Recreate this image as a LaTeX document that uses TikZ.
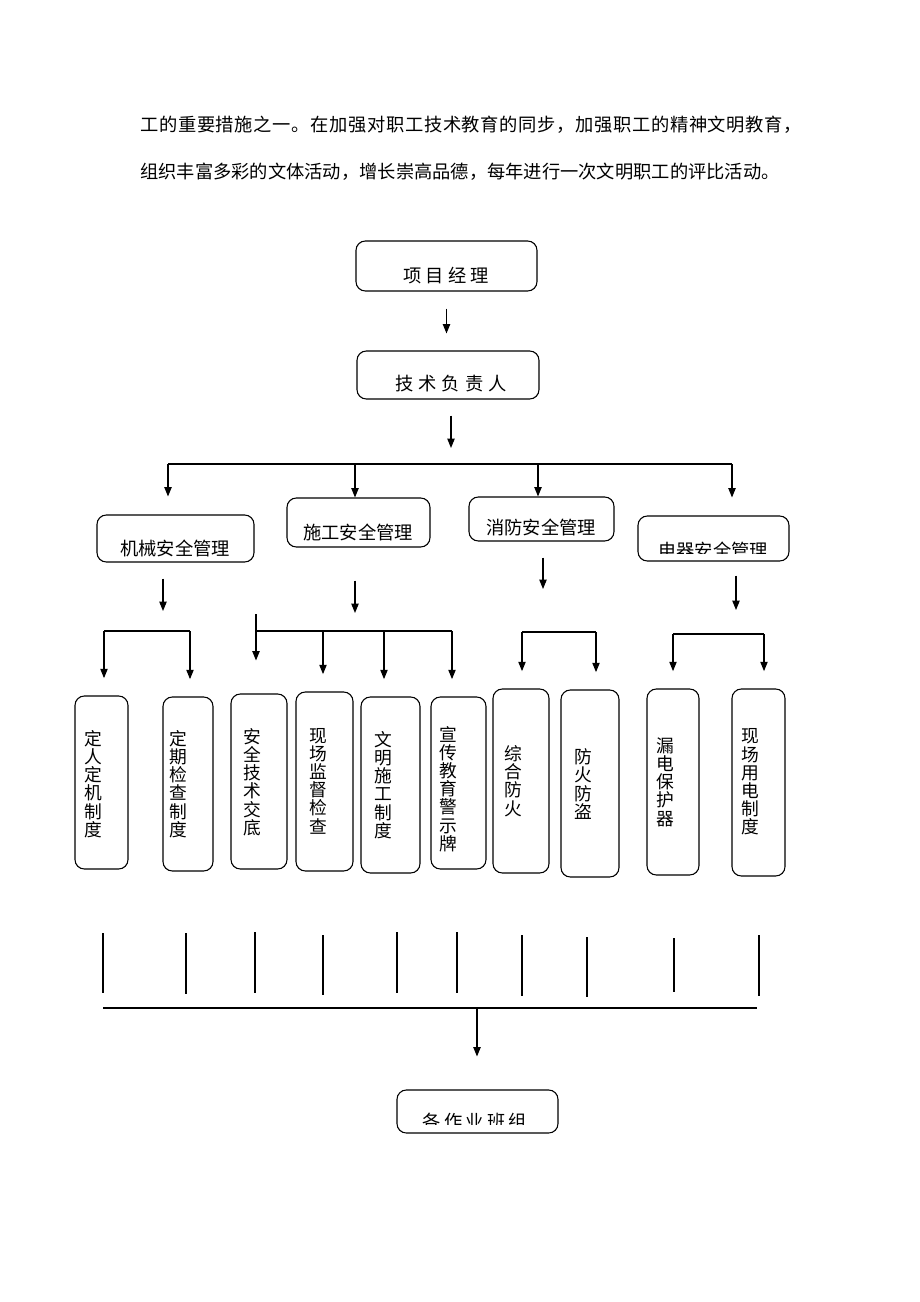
\documentclass[tikz,border=0pt]{standalone}
\usepackage{fontspec}
\setmainfont{Noto Sans CJK SC}
\usetikzlibrary{arrows.meta,fit,calc}
\tikzset{
	box/.style={draw, rounded corners=7pt, line width=0.8pt, inner sep=0pt},
	arr/.style={-{Triangle[length=7pt,width=5.5pt]}, line width=0.8pt},
	drop/.style={arr, shorten >=13pt},
	lbl/.style={inner sep=0pt, font=\fontsize{13.7}{14}\selectfont},
	widelbl/.style={inner sep=0pt, font=\fontsize{13.7}{14}\selectfont\addfontfeature{LetterSpace=#1}},
	vlbl/.style={inner sep=0pt, align=center, font=\fontsize{13.3}{13.65}\selectfont}
}

\begin{document}
\begin{tikzpicture}[x=0.75pt,y=-0.75pt]
			%%%%% START %%%%%
			\useasboundingbox (0,0) rectangle (920,1302);
			
			\node[widelbl=3.6, anchor=west] (line1) at (140,125) {工的重要措施之一。在加强对职工技术教育的同步，加强职工的精神文明教育，};
			\node[lbl, anchor=west] (line2) at (140,172) {组织丰富多彩的文体活动，增长崇高品德，每年进行一次文明职工的评比活动。};
			
			\node[box, fit={(356,241) (537,291)}] (pm) {};
			\node[widelbl=23] (pmtext) at (446,276) {项目经理};
			\node[box, fit={(357,351) (539,399)}] (tech) {};
			\node[widelbl=28] (techtext) at (451,384) {技术负责人};
			
			\coordinate (bus) at (451,464);
			\draw[arr, shorten <=12.75pt, shorten >=12.75pt] (pm.south) -- (pm.south |- tech.north);
			\draw[arr, shorten <=12pt, shorten >=12pt] (tech.south -| bus) -- (bus);
			
			\coordinate (b1) at (168,464);
			\coordinate (b2) at (355,464);
			\coordinate (b3) at (538,464);
			\coordinate (b4) at (732,464);
			\draw[line width=0.8pt] (b1) -- (b4);
			
			\node[box, fit={(97,515) (254,562)}] (mech) {};
			\node[lbl] (mechtext) at (175,548) {机械安全管理};
			\node[box, fit={(287,498) (430,547)}] (cons) {};
			\node[lbl] (constext) at (358,532) {施工安全管理};
			\node[box, fit={(469,497) (614,541)}] (fire) {};
			\node[lbl] (firetext) at (541,527) {消防安全管理};
			\node[box, fit={(638,516) (789,561)}] (elec) {};
			\begin{scope}
				\clip (638,516) rectangle (789,553.5);
				\node[lbl] (electext) at (713,550) {电器安全管理};
			\end{scope}
			
			\draw[drop, shorten >=13.5pt] (b1) -- (b1 |- mech.north);
			\draw[arr] (b2) -- (b2 |- cons.north);
			\draw[arr] (b3) -- (b3 |- fire.north);
			\draw[drop, shorten >=13.5pt] (b4) -- (b4 |- elec.north);
			
			% second split
			\coordinate (mk) at (163,631);
			\coordinate (ck) at (355,631);
			\coordinate (fk) at (543,632);
			\coordinate (ek) at (736,634);
			\draw[arr, shorten <=12pt, shorten >=15pt] (mech.south -| mk) -- (mk);
			\draw[arr, shorten <=24.75pt, shorten >=13.5pt] (cons.south -| ck) -- (ck);
			\draw[arr, shorten <=12pt, shorten >=32.25pt] (fire.south -| fk) -- (fk);
			\draw[arr, shorten <=10.5pt, shorten >=18pt] (elec.south -| ek) -- (ek);
			
			\node[box, fit={(75,696) (128,869)}] (r1) {};
			\node[box, fit={(163,697) (213,871)}] (r2) {};
			\node[box, fit={(231,694) (287,869)}] (r3) {};
			\node[box, fit={(296,692) (353,871)}] (r4) {};
			\node[box, fit={(361,697) (420,873)}] (r5) {};
			\node[box, fit={(431,697) (486,869)}] (r6) {};
			\node[box, fit={(493,689) (549,873)}] (r7) {};
			\node[box, fit={(561,690) (619,877)}] (r8) {};
			\node[box, fit={(647,689) (699,875)}] (r9) {};
			\node[box, fit={(732,689) (785,876)}] (r10) {};
			
			\node[vlbl] (t1) at (93,784) {定\\人\\定\\机\\制\\度};
			\node[vlbl] (t2) at (178,784) {定\\期\\检\\查\\制\\度};
			\node[vlbl] (t3) at (252,782) {安\\全\\技\\术\\交\\底};
			\node[vlbl] (t4) at (318,781) {现\\场\\监\\督\\检\\查};
			\node[vlbl] (t5) at (383,785) {文\\明\\施\\工\\制\\度};
			\node[vlbl] (t6) at (448,789) {宣\\传\\教\\育\\警\\示\\牌};
			\node[vlbl] (t7) at (513,781) {综\\合\\防\\火};
			\node[vlbl] (t8) at (583,784) {防\\火\\防\\盗};
			\node[vlbl] (t9) at (665,782) {漏\\电\\保\\护\\器};
			\node[vlbl] (t10) at (750,782) {现\\场\\用\\电\\制\\度};
			
			\coordinate (m1) at (104,631);
			\coordinate (m2) at (190,631);
			\draw[line width=0.8pt] (m1) -- (m2);
			\draw[drop] (m1) -- (m1 |- r1.north);
			\draw[drop] (m2) -- (m2 |- r2.north);
			
			\coordinate (c0) at (256,614);
			\coordinate (c1) at (256,631);
			\coordinate (c2) at (323,631);
			\coordinate (c3) at (384,631);
			\coordinate (c4) at (452,631);
			\draw[line width=0.8pt] (c1) -- (c4);
			\draw[arr, shorten >=24.75pt] (c0) -- (c0 |- r3.north);
			\draw[drop] (c2) -- (c2 |- r4.north);
			\draw[drop] (c3) -- (c3 |- r5.north);
			\draw[drop] (c4) -- (c4 |- r6.north);
			
			\coordinate (f1) at (522,632);
			\coordinate (f2) at (596,632);
			\draw[line width=0.8pt] (f1) -- (f2);
			\draw[drop] (f1) -- (f1 |- r7.north);
			\draw[drop] (f2) -- (f2 |- r8.north);
			
			\coordinate (e1) at (673,634);
			\coordinate (e2) at (764,634);
			\draw[line width=0.8pt] (e1) -- (e2);
			\draw[drop] (e1) -- (e1 |- r9.north);
			\draw[drop] (e2) -- (e2 |- r10.north);
			
			% lines to the teams
			\foreach \x/\ya/\yb in {103/933/993, 186/933/994, 255/932/993, 323/935/995, 397/932/993, 457/932/993, 522/935/996, 587/937/997, 674/938/992, 759/935/996}
				\draw[line width=0.8pt] (\x,\ya) -- (\x,\yb);
			
			\coordinate (jl) at (103,1008);
			\coordinate (jm) at (477,1008);
			\coordinate (jr) at (757,1008);
			\draw[line width=0.8pt] (jl) -- (jr);
			
			\node[box, fit={(397,1090) (558,1133)}] (team) {};
			\begin{scope}
				\clip (397,1090) rectangle (558,1124.5);
				\node[widelbl=18] (teamtext) at (475,1122) {各作业班组};
			\end{scope}
			\draw[arr, shorten >=24.75pt] (jm) -- (jm |- team.north);
			
			%%%%% END %%%%%
\end{tikzpicture}
\end{document}
